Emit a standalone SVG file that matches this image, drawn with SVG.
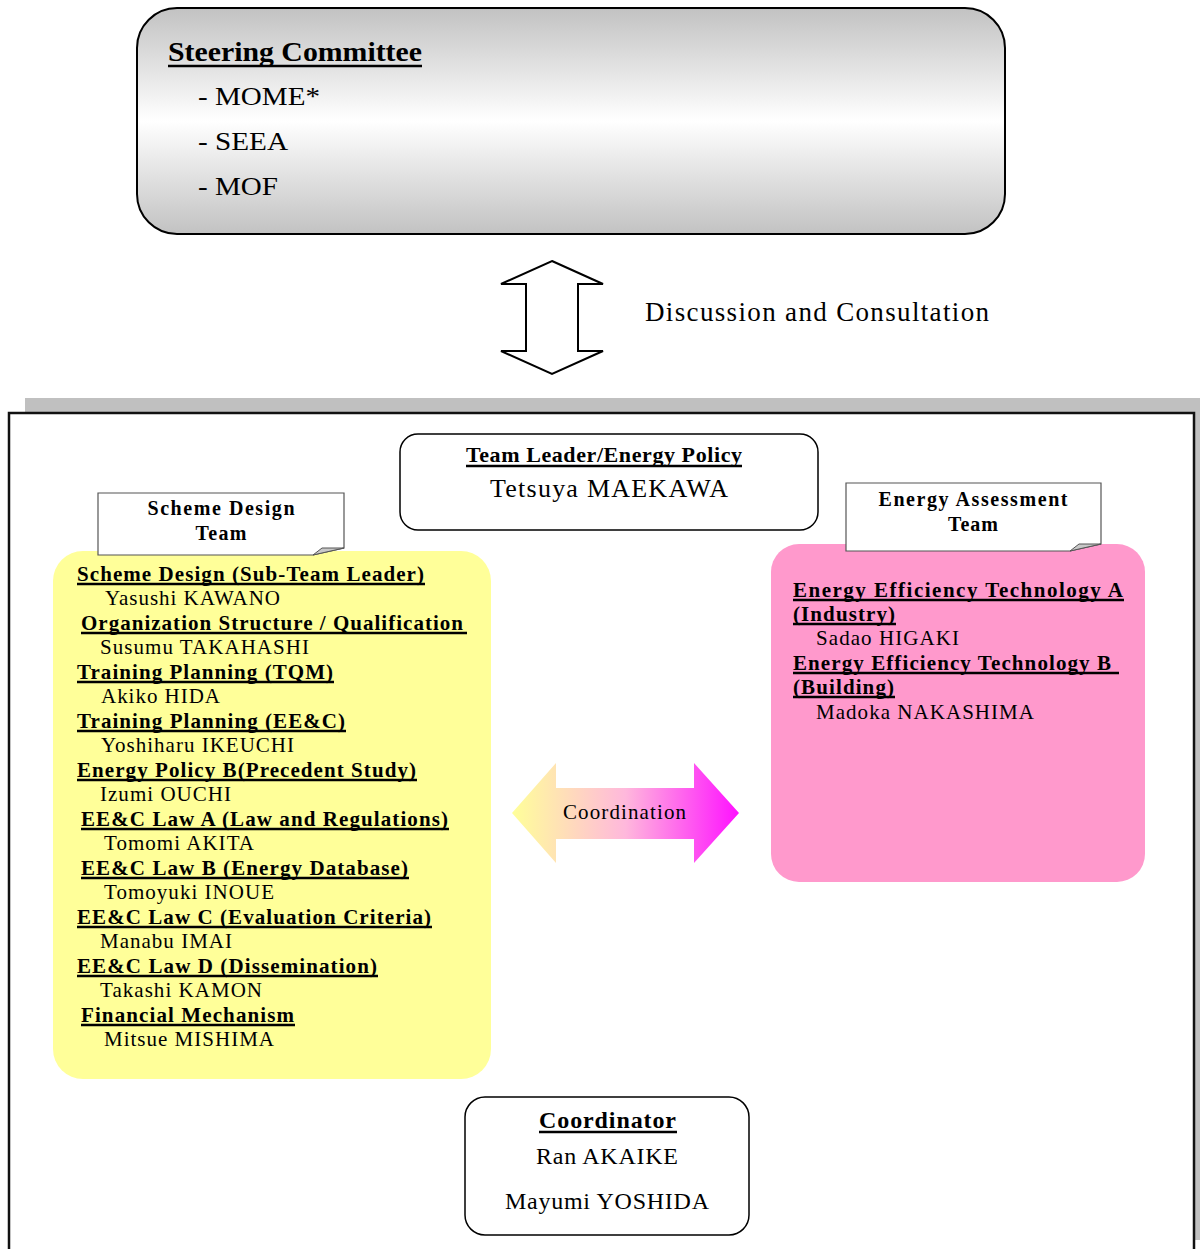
<svg xmlns="http://www.w3.org/2000/svg" width="1200" height="1249" viewBox="0 0 1200 1249">
<defs>
<linearGradient id="gSteer" x1="0" y1="0" x2="0" y2="1">
<stop offset="0" stop-color="#c2c2c2"/>
<stop offset="0.5" stop-color="#ffffff"/>
<stop offset="1" stop-color="#c2c2c2"/>
</linearGradient>
<linearGradient id="gCoord" x1="0" y1="0" x2="1" y2="0">
<stop offset="0" stop-color="#ffff99"/>
<stop offset="0.5" stop-color="#ffb8dc"/>
<stop offset="1" stop-color="#ff11ff"/>
</linearGradient>
<style>
text{font-family:"Liberation Serif","Times New Roman",serif;fill:#000}
.b{font-weight:bold}
.h{font-size:21px;font-weight:bold}
.n{font-size:21px}
.u{stroke:#000;stroke-width:2.5}
.box{fill:#fff;stroke:#000;stroke-width:1.5}
.lab{fill:#fff;stroke:#555;stroke-width:1.2}
.curl{fill:#c8c8c8;stroke:#555;stroke-width:1}
</style>
</defs>

<g id="frame">
<rect x="25" y="398" width="1175" height="842" fill="#c0c0c0"/>
<rect x="9" y="413" width="1185" height="850" fill="#fff" stroke="#111" stroke-width="2.5"/>
</g>

<g id="steering">
<rect x="137" y="8" width="868" height="226" rx="40" fill="url(#gSteer)" stroke="#000" stroke-width="2"/>
<text x="168" y="61" class="b" font-size="27" textLength="254" lengthAdjust="spacingAndGlyphs">Steering Committee</text>
<line class="u" x1="168" y1="66" x2="422" y2="66"/>
<text x="198" y="105" font-size="26" textLength="122" lengthAdjust="spacingAndGlyphs">- MOME*</text>
<text x="198" y="150" font-size="26" textLength="90" lengthAdjust="spacingAndGlyphs">- SEEA</text>
<text x="198" y="195" font-size="26" textLength="80" lengthAdjust="spacingAndGlyphs">- MOF</text>
</g>

<g id="connectors">
<g id="discussion">
<path d="M552,261 L603,284 L578,284 L578,351 L603,351 L552,374 L501,351 L526,351 L526,284 L501,284 Z" fill="#fff" stroke="#000" stroke-width="2"/>
<text x="645" y="321" font-size="27" textLength="344" lengthAdjust="spacing">Discussion and Consultation</text>
</g>
<g id="coordination">
<path d="M512,813 L556,763 L556,788 L694,788 L694,763 L739,813 L694,863 L694,839 L556,839 L556,863 Z" fill="url(#gCoord)"/>
<text x="563" y="819" font-size="21" textLength="123" lengthAdjust="spacing">Coordination</text>
</g>
</g>

<g id="team-leader">
<rect class="box" x="400" y="434" width="418" height="96" rx="18"/>
<text x="466" y="462" class="b" font-size="22" textLength="276" lengthAdjust="spacing">Team Leader/Energy Policy</text>
<line class="u" x1="466" y1="466" x2="742" y2="466"/>
<text x="490" y="497" font-size="26" textLength="238" lengthAdjust="spacing">Tetsuya MAEKAWA</text>
</g>

<g id="scheme-design">
<rect x="53" y="551" width="438" height="528" rx="30" fill="#ffff99"/>
<g id="scheme-label">
<path class="lab" d="M98,493 H344 V548 L313,555 H98 Z"/>
<path class="curl" d="M313,555 L322,548 L344,548 Z"/>
<text x="221" y="515" class="b" font-size="20" text-anchor="middle" textLength="147" lengthAdjust="spacing">Scheme Design</text>
<text x="221" y="540" class="b" font-size="20" text-anchor="middle" textLength="51" lengthAdjust="spacing">Team</text>
</g>
<text class="h" x="77" y="581" textLength="347" lengthAdjust="spacing">Scheme Design (Sub-Team Leader)</text>
<line class="u" x1="77" y1="584" x2="425" y2="584"/>
<text class="n" x="105" y="605" textLength="175" lengthAdjust="spacing">Yasushi KAWANO</text>
<text class="h" x="81" y="630" textLength="382" lengthAdjust="spacing">Organization Structure / Qualification</text>
<line class="u" x1="81" y1="633" x2="467" y2="633"/>
<text class="n" x="100" y="654" textLength="209" lengthAdjust="spacing">Susumu TAKAHASHI</text>
<text class="h" x="77" y="679" textLength="256" lengthAdjust="spacing">Training Planning (TQM)</text>
<line class="u" x1="77" y1="682" x2="334" y2="682"/>
<text class="n" x="101" y="703" textLength="119" lengthAdjust="spacing">Akiko HIDA</text>
<text class="h" x="77" y="728" textLength="268" lengthAdjust="spacing">Training Planning (EE&amp;C)</text>
<line class="u" x1="77" y1="731" x2="346" y2="731"/>
<text class="n" x="101" y="752" textLength="193" lengthAdjust="spacing">Yoshiharu IKEUCHI</text>
<text class="h" x="77" y="777" textLength="339" lengthAdjust="spacing">Energy Policy B(Precedent Study)</text>
<line class="u" x1="77" y1="780" x2="417" y2="780"/>
<text class="n" x="100" y="801" textLength="131" lengthAdjust="spacing">Izumi OUCHI</text>
<text class="h" x="81" y="826" textLength="367" lengthAdjust="spacing">EE&amp;C Law A (Law and Regulations)</text>
<line class="u" x1="81" y1="829" x2="449" y2="829"/>
<text class="n" x="104" y="850" textLength="150" lengthAdjust="spacing">Tomomi AKITA</text>
<text class="h" x="81" y="875" textLength="327" lengthAdjust="spacing">EE&amp;C Law B (Energy Database)</text>
<line class="u" x1="81" y1="878" x2="409" y2="878"/>
<text class="n" x="104" y="899" textLength="170" lengthAdjust="spacing">Tomoyuki INOUE</text>
<text class="h" x="77" y="924" textLength="354" lengthAdjust="spacing">EE&amp;C Law C (Evaluation Criteria)</text>
<line class="u" x1="77" y1="927" x2="432" y2="927"/>
<text class="n" x="100" y="948" textLength="132" lengthAdjust="spacing">Manabu IMAI</text>
<text class="h" x="77" y="973" textLength="300" lengthAdjust="spacing">EE&amp;C Law D (Dissemination)</text>
<line class="u" x1="77" y1="976" x2="378" y2="976"/>
<text class="n" x="100" y="997" textLength="162" lengthAdjust="spacing">Takashi KAMON</text>
<text class="h" x="81" y="1022" textLength="213" lengthAdjust="spacing">Financial Mechanism</text>
<line class="u" x1="81" y1="1025" x2="295" y2="1025"/>
<text class="n" x="104" y="1046" textLength="170" lengthAdjust="spacing">Mitsue MISHIMA</text>
</g>

<g id="energy-assessment">
<rect x="771" y="544" width="374" height="338" rx="28" fill="#ff99cc"/>
<g id="assessment-label">
<path class="lab" d="M846,483 H1101 V544 L1070,551 H846 Z"/>
<path class="curl" d="M1070,551 L1079,544 L1101,544 Z"/>
<text x="973" y="506" class="b" font-size="20" text-anchor="middle" textLength="189" lengthAdjust="spacing">Energy Assessment</text>
<text x="973" y="531" class="b" font-size="20" text-anchor="middle" textLength="50" lengthAdjust="spacing">Team</text>
</g>
<text class="h" x="793" y="597" textLength="330" lengthAdjust="spacing">Energy Efficiency Technology A</text>
<line class="u" x1="793" y1="600" x2="1124" y2="600"/>
<text class="h" x="793" y="621" textLength="102" lengthAdjust="spacing">(Industry)</text>
<line class="u" x1="793" y1="624" x2="896" y2="624"/>
<text class="n" x="816" y="645" textLength="143" lengthAdjust="spacing">Sadao HIGAKI</text>
<text class="h" x="793" y="670" textLength="318" lengthAdjust="spacing">Energy Efficiency Technology B</text>
<line class="u" x1="793" y1="673" x2="1119" y2="673"/>
<text class="h" x="793" y="694" textLength="101" lengthAdjust="spacing">(Building)</text>
<line class="u" x1="793" y1="697" x2="895" y2="697"/>
<text class="n" x="816" y="719" textLength="218" lengthAdjust="spacing">Madoka NAKASHIMA</text>
</g>

<g id="coordinator">
<rect class="box" x="465" y="1097" width="284" height="138" rx="20"/>
<text x="539" y="1128" class="b" font-size="24" textLength="137" lengthAdjust="spacing">Coordinator</text>
<line class="u" x1="539" y1="1132" x2="677" y2="1132"/>
<text x="536" y="1164" font-size="24" textLength="142" lengthAdjust="spacing">Ran AKAIKE</text>
<text x="505" y="1209" font-size="24" textLength="204" lengthAdjust="spacing">Mayumi YOSHIDA</text>
</g>
</svg>
